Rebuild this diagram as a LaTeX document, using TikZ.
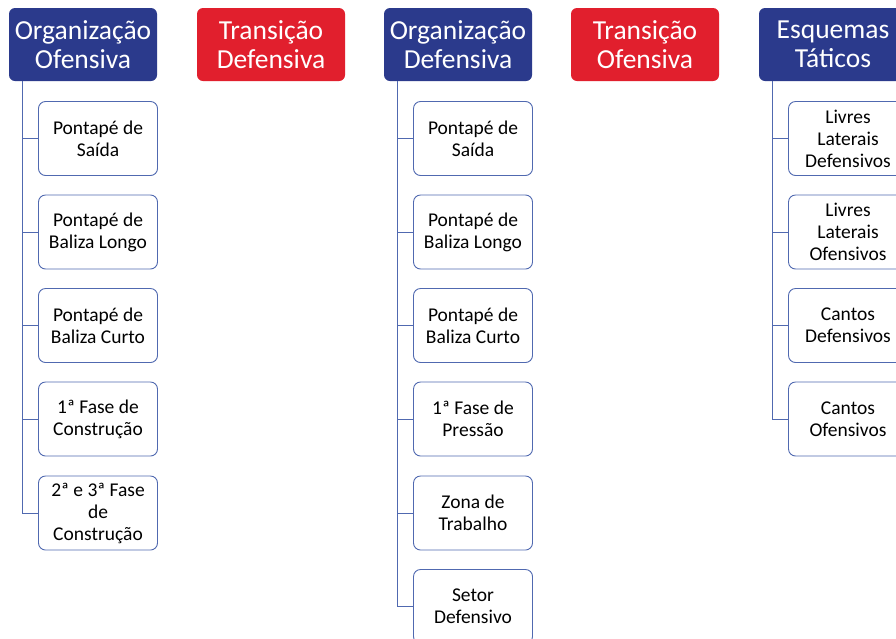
\documentclass[tikz,border=0pt]{standalone}
\usepackage{fontspec}
\setmainfont{Carlito}
\definecolor{navy}{HTML}{2B3A8C}
\definecolor{hred}{HTML}{E11F2D}
\definecolor{edge}{HTML}{5069B0}
\begin{document}
\begin{tikzpicture}[x=1pt,y=-1pt,
  hdr/.style={rounded corners=6pt,minimum width=148pt,minimum height=73pt,inner sep=0pt,align=center,text=white,font=\fontsize{27.5}{29.5}\selectfont},
  bluehdr/.style={hdr,fill=navy},
  redhdr/.style={hdr,fill=hred},
  child/.style={draw=edge,line width=0.9pt,rounded corners=7pt,fill=white,minimum width=119pt,minimum height=74pt,inner sep=0pt,align=center,text=black,font=\fontsize{19.5}{22}\selectfont},
  conn/.style={draw=edge,line width=0.9pt}]
\clip (0,0) rectangle (896,638);
\fill[white] (0,0) rectangle (896,638);
% headers
\node[bluehdr] (h1) at (83,44.5) {Organização\\Ofensiva};
\node[redhdr]  (h2) at (271,44.5) {Transição\\Defensiva};
\node[bluehdr] (h3) at (458,44.5) {Organização\\Defensiva};
\node[redhdr]  (h4) at (645,44.5) {Transição\\Ofensiva};
\node[bluehdr] (h5) at (833,44.5) {Esquemas\\Táticos};
% column 1
\node[child] (a1) at (98,138.5) {Pontapé de\\Saída};
\node[child] (a2) at (98,232) {Pontapé de\\Baliza Longo};
\node[child] (a3) at (98,325.5) {Pontapé de\\Baliza Curto};
\node[child] (a4) at (98,419) {1ª Fase de\\Construção};
\node[child] (a5) at (98,513) {2ª e 3ª Fase\\de\\Construção};
% column 3
\node[child] (b1) at (473,138.5) {Pontapé de\\Saída};
\node[child] (b2) at (473,232) {Pontapé de\\Baliza Longo};
\node[child] (b3) at (473,325.5) {Pontapé de\\Baliza Curto};
\node[child] (b4) at (473,419) {1ª Fase de\\Pressão};
\node[child] (b5) at (473,513) {Zona de\\Trabalho};
\node[child] (b6) at (473,606.5) {Setor\\Defensivo};
% column 5
\node[child] (c1) at (848,138.5) {Livres\\Laterais\\Defensivos};
\node[child] (c2) at (848,232) {Livres\\Laterais\\Ofensivos};
\node[child] (c3) at (848,325.5) {Cantos\\Defensivos};
\node[child] (c4) at (848,419) {Cantos\\Ofensivos};
% connectors
\foreach \n in {a1,a2,a3,a4,a5}
  \draw[conn] ([xshift=14pt]h1.south west) |- (\n.west);
\foreach \n in {b1,b2,b3,b4,b5,b6}
  \draw[conn] ([xshift=14pt]h3.south west) |- (\n.west);
\foreach \n in {c1,c2,c3,c4}
  \draw[conn] ([xshift=14pt]h5.south west) |- (\n.west);
\end{tikzpicture}
\end{document}
